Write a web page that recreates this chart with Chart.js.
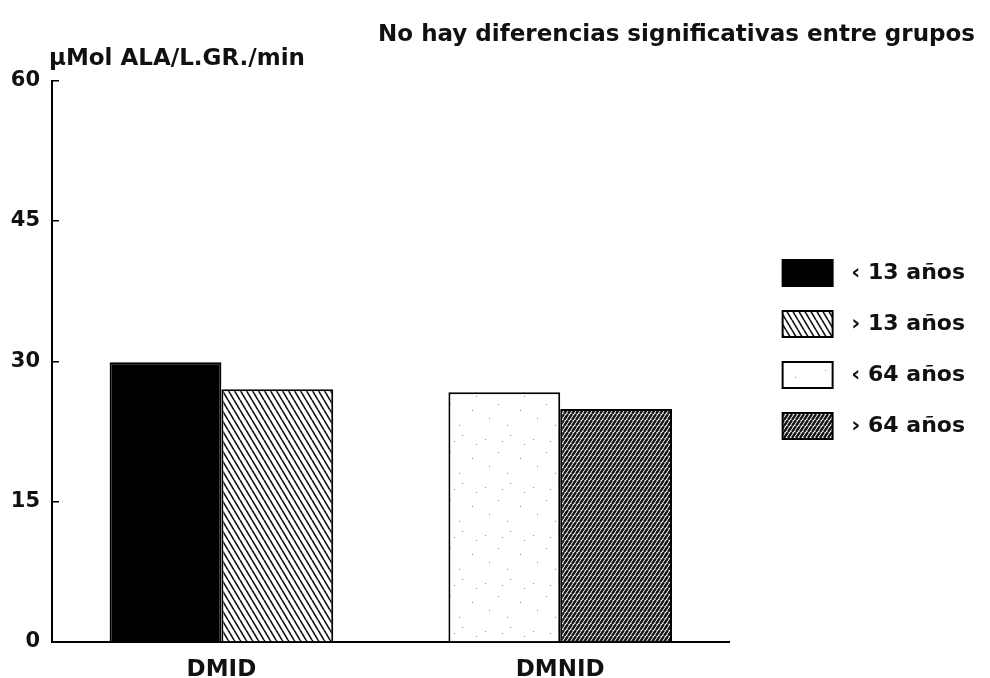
<!DOCTYPE html>
<html>
<head>
<meta charset="utf-8">
<script src="https://cdn.jsdelivr.net/npm/chart.js@4"></script>
<style>
  html, body { margin: 0; padding: 0; background: #fff; }
  #wrap { width: 990px; height: 678px; }
</style>
</head>
<body>
<div id="wrap"><canvas id="grafico" width="990" height="678"></canvas></div>
<script>
// datos
const grupos = ['DMID', 'DMNID'];
const menos13 = [29.9, null];
const mas13 = [27.0, null];
const menos64 = [null, 26.7];
const mas64 = [null, 24.9];
const etiquetas = [' \u2039 13 a\u00f1os', ' \u203a 13 a\u00f1os', ' \u2039 64 a\u00f1os', ' \u203a 64 a\u00f1os'];
const tituloY = '\u00b5Mol ALA/L.GR./min';
const titulo = 'No hay diferencias significativas entre grupos';

const fuente = '"DejaVu Sans", "Liberation Sans", Arial, sans-serif';

// tramas
function rayado(ancho, alto, grosor, invertido, fondo, color){
  let c = document.createElement('canvas');
  c.width = ancho; c.height = alto;
  let ctx = c.getContext('2d');
  ctx.fillStyle = fondo;
  ctx.fillRect(0, 0, ancho, alto);
  ctx.strokeStyle = color;
  ctx.lineWidth = grosor;
  ctx.beginPath();
  for (let k = -1; k <= 1; k++) {
    if (invertido) {
      ctx.moveTo(k * ancho, 0); ctx.lineTo(k * ancho + ancho, alto);
    } else {
      ctx.moveTo(k * ancho, alto); ctx.lineTo(k * ancho + ancho, 0);
    }
  }
  ctx.stroke();
  return document.getElementById('grafico').getContext('2d').createPattern(c, 'repeat');
}

function punteado(){
  let c = document.createElement('canvas');
  c.width = 48; c.height = 48;
  let ctx = c.getContext('2d');
  ctx.fillStyle = '#fff';
  ctx.fillRect(0, 0, 48, 48);
  ctx.fillStyle = '#888';
  [[5,7],[30,3],[18,20],[40,26],[9,34],[27,41],[44,12],[22,9]].forEach(p => ctx.fillRect(p[0], p[1], 1, 1));
  return document.getElementById('grafico').getContext('2d').createPattern(c, 'repeat');
}

const tramaMas13 = rayado(6, 10, 1.6, true, '#fff', '#111');
const tramaMenos64 = punteado();
const tramaMas64 = rayado(4, 6, 2.4, false, '#fff', '#141414');

const textosExtra = {
  id: 'textosExtra',
  afterDraw(chart){
    const ctx = chart.ctx;
    const area = chart.chartArea;
    ctx.save();
    ctx.fillStyle = '#111';
    ctx.font = 'bold 23px ' + fuente;
    ctx.textAlign = 'left';
    ctx.textBaseline = 'alphabetic';
    ctx.fillText(tituloY, area.left - 3, area.top - 16);
    ctx.restore();
  }
};

const grafico = new Chart(document.getElementById('grafico'), {
  type: 'bar',
  data: {
    labels: grupos,
    datasets: [
      { label: etiquetas[0], data: menos13, backgroundColor: '#000', borderColor: '#000', borderWidth: 2 },
      { label: etiquetas[1], data: mas13, backgroundColor: tramaMas13, borderColor: '#000', borderWidth: 2 },
      { label: etiquetas[2], data: menos64, backgroundColor: tramaMenos64, borderColor: '#000', borderWidth: 2 },
      { label: etiquetas[3], data: mas64, backgroundColor: tramaMas64, borderColor: '#000', borderWidth: 2 }
    ]
  },
  options: {
    responsive: false,
    animation: false,
    layout: { padding: { left: 8, right: 15, top: 21, bottom: 0 } },
    datasets: { bar: { skipNull: true, barPercentage: 1, categoryPercentage: 0.66, borderSkipped: 'bottom' } },
    scales: {
      x: {
        grid: { display: false, drawTicks: false },
        border: { display: true, color: '#000', width: 2 },
        ticks: { color: '#111', font: { family: fuente, size: 23, weight: 'bold' }, padding: 14 },
        afterFit: s => { s.height = 36; }
      },
      y: {
        min: 0, max: 60,
        grid: { display: true, drawOnChartArea: false, drawTicks: true, tickLength: -7, color: '#000', lineWidth: 1.5 },
        border: { display: true, color: '#000', width: 2 },
        ticks: { stepSize: 15, color: '#111', font: { family: fuente, size: 21, weight: 'bold' }, padding: 19 },
        afterFit: s => { s.width = 44; }
      },
      hueco: {
        type: 'linear', position: 'right', display: true,
        grid: { display: false, drawTicks: false },
        border: { display: false },
        ticks: { display: false },
        afterFit: s => { s.width = 28; }
      }
    },
    plugins: {
      title: {
        display: true, text: titulo, align: 'end', color: '#111',
        font: { family: fuente, size: 23, weight: 'bold' },
        padding: { top: 0, bottom: 32 }
      },
      legend: {
        position: 'right',
        maxWidth: 260,
        labels: {
          boxWidth: 50, boxHeight: 26, padding: 25, color: '#111',
          font: { family: fuente, size: 22, weight: 'bold' }
        }
      },
      tooltip: { enabled: false }
    }
  },
  plugins: [textosExtra]
});
</script>
</body>
</html>
